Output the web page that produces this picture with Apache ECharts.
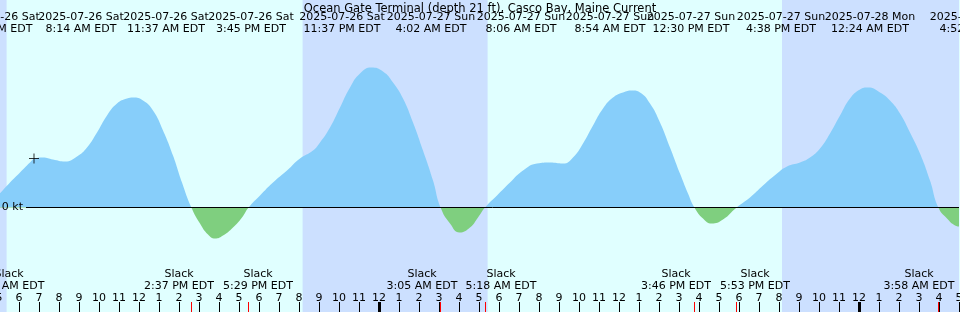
<!DOCTYPE html>
<html>
<head>
<meta charset="utf-8">
<script src="https://cdn.jsdelivr.net/npm/echarts@6/dist/echarts.min.js"></script>
<style>
  html, body { margin: 0; padding: 0; background: #e0ffff; }
  #chart { width: 960px; height: 312px; }
</style>
</head>
<body>
<div id="chart"></div>
<script>
// time in hours counted from 2025-07-26 00:00 EDT, speed in knots (flood +, ebb -)
const hours = [
  5.0, 5.55, 6.05, 6.55, 6.8, 7.2, 7.7, 8.3, 8.9, 9.4, 9.9, 10.4, 10.9, 11.4, 11.7,
  12.2, 12.7, 13.2, 13.7, 14.15, 14.62, 15.05, 15.45, 15.8, 16.2, 16.7, 17.15, 17.48,
  18.05, 18.7, 19.4, 20.05, 20.7, 21.05, 21.55, 22.05, 22.55, 23.05, 23.62, 24.2, 24.7,
  25.2, 25.7, 26.2, 26.7, 27.08, 27.55, 28.03, 28.55, 28.95, 29.3, 29.9, 30.55, 31.2,
  31.9, 32.55, 33.2, 33.7, 34.2, 34.7, 35.2, 35.7, 36.2, 36.65, 37.05, 37.55, 38.05,
  38.55, 39.05, 39.45, 39.77, 40.2, 40.63, 41.2, 41.88, 42.55, 43.2, 43.9, 44.4, 45.05,
  45.55, 46.05, 46.55, 47.05, 47.55, 48.05, 48.45, 49.05, 49.55, 50.05, 50.55, 51.05,
  51.55, 51.97, 52.4, 52.8, 53.0
];
const speed = [
  0.13, 0.25, 0.35, 0.45, 0.49, 0.50, 0.48, 0.46, 0.51, 0.60, 0.75, 0.92, 1.04, 1.09, 1.10,
  1.07, 0.97, 0.77, 0.52, 0.25, 0, -0.16, -0.27, -0.31, -0.28, -0.20, -0.10, 0,
  0.12, 0.25, 0.37, 0.49, 0.57, 0.65, 0.80, 1.00, 1.20, 1.34, 1.40, 1.36, 1.25,
  1.09, 0.85, 0.57, 0.27, 0, -0.16, -0.25, -0.20, -0.10, 0, 0.12, 0.25, 0.37,
  0.44, 0.45, 0.44, 0.50, 0.64, 0.82, 0.99, 1.10, 1.15, 1.17, 1.15, 1.04, 0.85,
  0.60, 0.34, 0.14, 0, -0.11, -0.16, -0.12, 0, 0.10, 0.22, 0.34, 0.41, 0.45,
  0.50, 0.59, 0.74, 0.92, 1.09, 1.18, 1.20, 1.15, 1.07, 0.94, 0.75, 0.54,
  0.27, 0, -0.11, -0.18, -0.19
];

// night (sunset -> sunrise) periods
const nightStart = [5.0, 20.18, 44.15];
const nightEnd = [5.38, 29.43, 53.0];

const slackHours = [14.62, 17.48, 27.08, 29.3, 39.77, 41.88, 51.97];
const midnightHours = [24, 48];
const markHour = 6.75;
const markSpeed = 0.49;

const topDates = [
  '2025-07-26 Sat', '2025-07-26 Sat', '2025-07-26 Sat', '2025-07-26 Sat', '2025-07-26 Sat',
  '2025-07-27 Sun', '2025-07-27 Sun', '2025-07-27 Sun', '2025-07-27 Sun', '2025-07-27 Sun',
  '2025-07-28 Mon', '2025-07-28 Mon'
];
const topTimes = [
  '7:12 AM EDT', '8:14 AM EDT', '11:37 AM EDT', '3:45 PM EDT', '11:37 PM EDT', '4:02 AM EDT',
  '8:06 AM EDT', '8:54 AM EDT', '12:30 PM EDT', '4:38 PM EDT', '12:24 AM EDT', '4:52 AM EDT'
];
const slackTimes = [
  '4:18 AM EDT', '2:37 PM EDT', '5:29 PM EDT', '3:05 AM EDT', '5:18 AM EDT',
  '3:46 PM EDT', '5:53 PM EDT', '3:58 AM EDT'
];

const chart = echarts.init(document.getElementById('chart'));

const FONT = '"DejaVu Sans", sans-serif';
const floodColor = '#87cefa';
const ebbColor = '#7fcf7f';
const nightColor = '#cce0ff';
const yMin = -1.045;
const yMax = 2.075;
const H = 312;

// label centres (px) -- labels are spread apart so they don't collide
const topX = [-3, 81, 166, 251, 342, 431, 521, 610, 691, 781, 870, 975];
const slackX = [9, 179, 258, 422, 501, 676, 755, 919];

const graphic = [];
topDates.forEach((d, i) => {
  graphic.push({
    type: 'text', x: topX[i], y: 17, z: 100,
    style: { text: d, fill: '#000', fontSize: 11, fontFamily: FONT, align: 'center', verticalAlign: 'middle' }
  });
  graphic.push({
    type: 'text', x: topX[i], y: 29, z: 100,
    style: { text: topTimes[i], fill: '#000', fontSize: 11, fontFamily: FONT, align: 'center', verticalAlign: 'middle' }
  });
});
slackTimes.forEach((t, i) => {
  graphic.push({
    type: 'text', x: slackX[i], y: 274, z: 100,
    style: { text: 'Slack', fill: '#000', fontSize: 11, fontFamily: FONT, align: 'center', verticalAlign: 'middle' }
  });
  graphic.push({
    type: 'text', x: slackX[i], y: 286, z: 100,
    style: { text: t, fill: '#000', fontSize: 11, fontFamily: FONT, align: 'center', verticalAlign: 'middle' }
  });
});

function tickRenderer(width, color) {
  return function (params, api) {
    const x = api.coord([api.value(0), 0])[0];
    const h = api.getHeight();
    return {
      type: 'rect',
      shape: { x: Math.round(x - width / 2), y: h - 10, width: width, height: 10 },
      style: { fill: color }
    };
  };
}

// flood above the zero line, ebb below it
const zeroFrac = yMax / (yMax - yMin);
const areaFill = new echarts.graphic.LinearGradient(0, 0, 0, H, [
  { offset: 0, color: floodColor },
  { offset: zeroFrac, color: floodColor },
  { offset: zeroFrac, color: ebbColor },
  { offset: 1, color: ebbColor }
], true);

const option = {
  backgroundColor: '#e0ffff',
  animation: false,
  title: {
    text: 'Ocean Gate Terminal (depth 21 ft), Casco Bay, Maine Current',
    left: 'center',
    top: 3,
    padding: 0,
    textStyle: { color: '#000', fontSize: 11.5, fontWeight: 'normal', fontFamily: FONT }
  },
  grid: { left: -1, right: 1, top: 0, bottom: 0, outerBoundsMode: 'none' },
  xAxis: {
    type: 'value',
    min: 5,
    max: 53,
    interval: 1,
    z: 10,
    axisLine: { show: false, onZero: false },
    axisTick: { show: true, inside: true, length: 10, lineStyle: { color: '#000', width: 1 } },
    axisLabel: {
      inside: true,
      margin: 8,
      color: '#000',
      fontSize: 11,
      fontFamily: FONT,
      showMinLabel: true,
      showMaxLabel: true,
      formatter: (v) => String(((v + 11) % 12) + 1)
    },
    splitLine: { show: false }
  },
  yAxis: {
    type: 'value',
    min: yMin,
    max: yMax,
    show: false,
    splitLine: { show: false }
  },
  series: [
    {
      // day / night background
      type: 'line',
      z: 0,
      silent: true,
      data: [[5, 0]],
      showSymbol: false,
      lineStyle: { opacity: 0 },
      markArea: {
        silent: true,
        itemStyle: { color: nightColor },
        data: nightStart.map((s, i) => [{ xAxis: s }, { xAxis: nightEnd[i] }])
      }
    },
    {
      name: 'Current',
      type: 'line',
      z: 2,
      smooth: 0.5,
      showSymbol: false,
      lineStyle: { width: 0, opacity: 0 },
      areaStyle: { opacity: 1, color: areaFill },
      data: hours.map((h, i) => [h, speed[i]])
    },
    {
      type: 'scatter',
      z: 5,
      silent: true,
      symbol: 'path://M0 5L10 5M5 0L5 10',
      symbolSize: 10,
      itemStyle: { color: 'rgba(0,0,0,0)', borderColor: '#000', borderWidth: 1 },
      data: [[markHour, markSpeed]],
      markLine: {
        silent: true,
        symbol: ['none', 'none'],
        lineStyle: { color: '#000', width: 1, type: 'solid' },
        label: {
          show: true, position: 'start', distance: 3, formatter: '0 kt',
          color: '#000', fontSize: 11, fontFamily: FONT
        },
        data: [[{ coord: [6.35, 0] }, { coord: [53, 0] }]]
      }
    },
    {
      type: 'custom',
      z: 6,
      silent: true,
      renderItem: tickRenderer(1, '#ff0000'),
      data: slackHours.map((h) => [h, 0])
    },
    {
      type: 'custom',
      z: 6,
      silent: true,
      renderItem: tickRenderer(3, '#000'),
      data: midnightHours.map((h) => [h, 0])
    }
  ],
  graphic: graphic
};

chart.setOption(option);
</script>
</body>
</html>
